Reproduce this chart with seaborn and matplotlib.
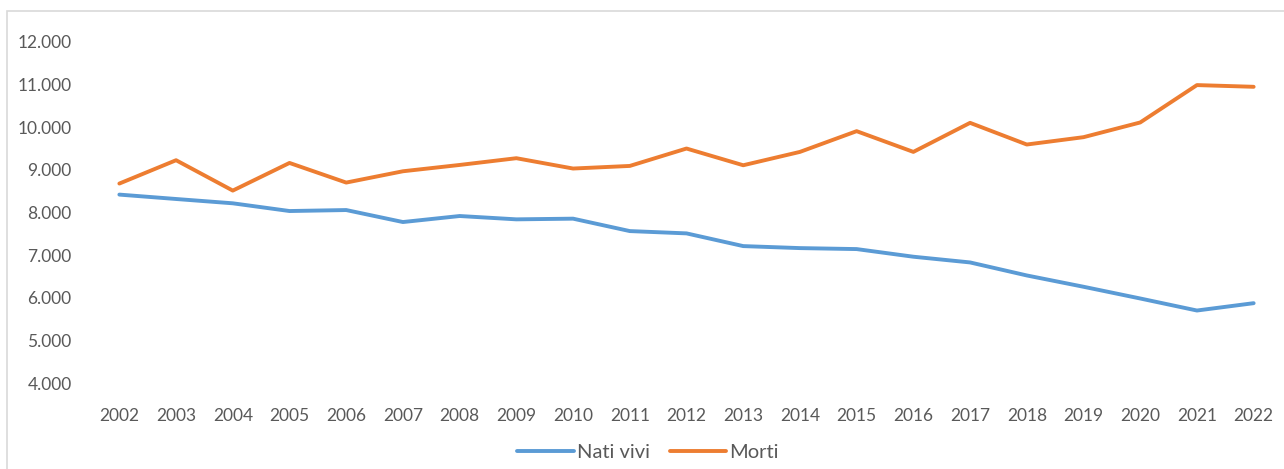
import matplotlib
matplotlib.use('Agg')

import pandas as pd
import matplotlib.pyplot as plt
from matplotlib.patches import Rectangle
from matplotlib.ticker import FuncFormatter
import seaborn as sns

years = list(range(2002, 2023))
nati_vivi = [8416, 8313, 8212, 8031, 8054, 7773, 7914, 7836, 7852, 7561, 7507,
             7209, 7162, 7139, 6960, 6826, 6521, 6256, 5981, 5699, 5871]
morti = [8675, 9222, 8510, 9158, 8698, 8963, 9111, 9269, 9027, 9088, 9496,
         9104, 9417, 9903, 9417, 10098, 9590, 9762, 10107, 10983, 10943]
series_names = ['Nati vivi', 'Morti']
colors = ['#5B9BD5', '#ED7D31']
y_ticks = list(range(4000, 12001, 1000))

df = pd.DataFrame({
    'anno': years * 2,
    'valore': nati_vivi + morti,
    'serie': [series_names[0]] * len(years) + [series_names[1]] * len(years),
})
# categorical x like Excel: positions 0..n-1
df['pos'] = df['anno'].map({y: i for i, y in enumerate(years)})

sns.set_style('white')
plt.rcParams['font.family'] = ['Lato', 'DejaVu Sans']

fig = plt.figure(figsize=(12.84, 4.69), dpi=100)
ax = fig.add_axes([91 / 1284, 1 - 383 / 469, (1282 - 91) / 1284, (383 - 41.7) / 469])

sns.lineplot(data=df, x='pos', y='valore', hue='serie', palette=colors,
             linewidth=2.8, ax=ax, legend=False)

ax.set_xlim(-0.5, len(years) - 0.5)
ax.set_ylim(4000, 12000)
ax.set_xticks(range(len(years)))
ax.set_xticklabels([str(y) for y in years])
ax.set_yticks(y_ticks)
ax.yaxis.set_major_formatter(FuncFormatter(lambda v, p: f'{int(v):,}'.replace(',', '.')))
ax.tick_params(axis='both', length=0, labelsize=12.5, colors='#595959')
ax.tick_params(axis='x', pad=18)
ax.tick_params(axis='y', pad=14)
ax.set_xlabel('')
ax.set_ylabel('')
sns.despine(ax=ax, left=True, bottom=True)

handles = [plt.Line2D([], [], color=c, lw=2.8) for c in colors]
fig.legend(handles, series_names, loc='center', bbox_to_anchor=(648 / 1284, 1 - 452 / 469),
           ncol=2, frameon=False, fontsize=14.5, handlelength=2.8, columnspacing=1.0,
           handletextpad=0.15, labelcolor='#595959')

fig.patches.append(Rectangle((7 / 1284, -0.1), 1.1, 1.1 - 11 / 469,
                             transform=fig.transFigure, fill=False,
                             edgecolor='#D9D9D9', lw=1.2))

fig.savefig('out.png', dpi=100)
